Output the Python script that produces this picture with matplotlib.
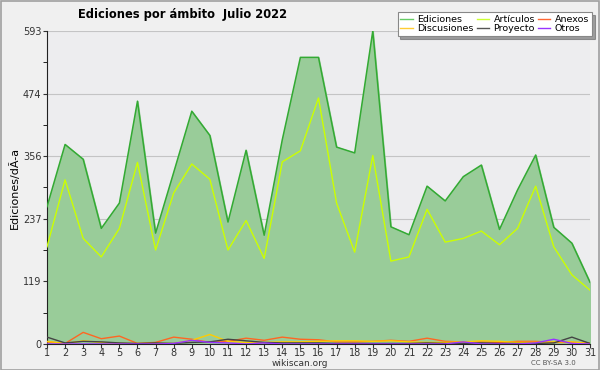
import numpy as np
import matplotlib
matplotlib.use("Agg")
import matplotlib.pyplot as plt
from matplotlib.patches import Rectangle

days = list(range(1, 32))
yticks = [0, 119, 237, 356, 474, 593]

ediciones = [260, 378, 350, 219, 267, 460, 210, 325, 441, 395, 231, 367, 206, 387, 543, 543,
             373, 362, 593, 222, 207, 299, 271, 317, 339, 217, 292, 358, 221, 191, 117]
articulos = [184, 311, 200, 165, 219, 344, 178, 286, 341, 312, 178, 234, 162, 345, 366, 466,
             267, 174, 357, 157, 165, 255, 193, 200, 214, 188, 219, 299, 184, 131, 102]
anexos = [4, 1, 22, 10, 15, 1, 3, 13, 9, 3, 5, 11, 7, 13, 9, 8,
          4, 4, 5, 7, 5, 11, 5, 4, 4, 3, 5, 5, 3, 3, 2]
discusiones = [5, 1, 6, 3, 1, 1, 1, 1, 7, 18, 5, 3, 3, 4, 4, 5,
               6, 6, 5, 6, 4, 3, 3, 4, 6, 5, 3, 3, 4, 4, 1]
proyecto = [13, 2, 5, 4, 2, 1, 2, 1, 3, 4, 9, 6, 3, 2, 2, 2,
            1, 1, 1, 1, 1, 2, 1, 1, 2, 1, 1, 1, 2, 13, 1]
otros = [0, 0, 0, 0, 0, 0, 0, 1, 7, 3, 2, 0, 2, 0, 0, 0,
         0, 0, 0, 0, 0, 0, 0, 4, 0, 0, 0, 2, 9, 1, 0]

fig = plt.figure(figsize=(6, 3.7), dpi=100, facecolor="#f0f0f0")
fig.patches.append(Rectangle((0.001, 0.001), 0.997, 0.996, transform=fig.transFigure,
                             fill=False, edgecolor="#a0a0a0", linewidth=1.2))
ax = fig.add_axes([0.0783, 0.0703, 0.905, 0.846])
ax.set_facecolor("#ededef")

# main series
ax.fill_between(days, ediciones, 0, color="#99cc99", zorder=2)
ax.plot(days, ediciones, color="#33aa33", lw=1.1, zorder=3)
ax.plot(days, articulos, color="#ccff00", lw=1.0, zorder=4)
# small series
ax.plot(days, anexos, color="#ff6622", lw=1.0, zorder=5)
ax.plot(days, discusiones, color="#ffcc00", lw=1.0, zorder=5)
ax.plot(days, proyecto, color="#444444", lw=1.0, zorder=5)
ax.plot(days, otros, color="#9933ff", lw=1.0, zorder=5)

ax.set_xlim(1, 31)
ax.set_ylim(0, 593)
ax.set_xticks(days)
ax.set_yticks(yticks)
ax.set_yticks([(a + b) / 2 for a, b in zip(yticks[:-1], yticks[1:])], minor=True)
ax.tick_params(axis="both", labelsize=7, length=3, width=0.8, pad=1, colors="#333333")
ax.tick_params(axis="x", pad=0)
ax.tick_params(axis="y", which="minor", length=3)
ax.grid(axis="y", color="#aaaaaa", lw=0.8, alpha=0.6, zorder=6)
for s in ["top", "right"]:
    ax.spines[s].set_visible(False)
ax.spines["left"].set_color("#222222")
ax.spines["bottom"].set_color("#222222")
ax.set_ylabel("Ediciones/dÃ-a", fontsize=8, labelpad=2)

fig.text(0.305, 0.962, "Ediciones por ámbito  Julio 2022", ha="center", va="center",
         fontsize=8.3, fontweight="bold")
fig.text(0.5, 0.018, "wikiscan.org", ha="center", va="center", fontsize=6.5, color="#333333")
fig.text(0.96, 0.02, "CC BY-SA 3.0", ha="right", va="center", fontsize=5, color="#555555")

# legend, filled column-wise
names = ["Ediciones", "Discusiones", "Artículos", "Proyecto", "Anexos", "Otros"]
cols = ["#66cc66", "#ffcc33", "#ccff33", "#555555", "#ff6633", "#9933ff"]
handles = [plt.Line2D([], [], color=c, lw=1) for c in cols]
leg = fig.legend(handles, names, ncol=3, loc="upper right", bbox_to_anchor=(0.99, 0.972),
                 fontsize=6.8, frameon=True, fancybox=False, shadow=True,
                 handlelength=1.3, handletextpad=0.5, columnspacing=0.3,
                 labelspacing=0.0, borderpad=0.3, borderaxespad=0.2)
leg.get_frame().set_edgecolor("#888888")
leg.get_frame().set_linewidth(0.8)

fig.savefig("out.png", dpi=100, facecolor=fig.get_facecolor())
